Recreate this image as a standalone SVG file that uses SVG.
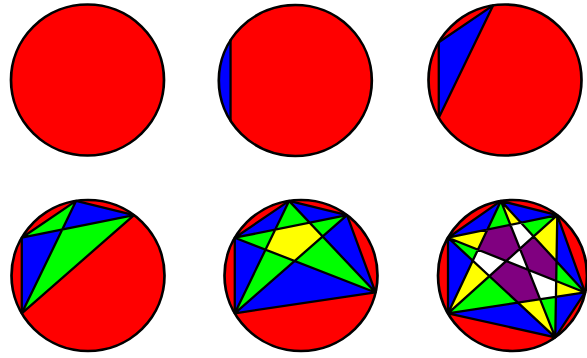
<svg xmlns="http://www.w3.org/2000/svg" width="587" height="358" viewBox="0 0 587 358">
<style>
.disk{fill:#ff0000}
.rim{fill:none;stroke:#000;stroke-width:2.7;vector-effect:non-scaling-stroke}
.ch{fill:none;stroke:#000;stroke-width:2.3;stroke-linecap:round;stroke-linejoin:round;vector-effect:non-scaling-stroke}
.b{fill:#0000ff}.g{fill:#00ff00}.y{fill:#ffff00}.p{fill:#800080}.w{fill:#ffffff}
</style>
<rect width="587" height="358" fill="#fff"/>
<g id="circle1" transform="translate(87.5,80) scale(0.987,0.974)">
<circle class="disk" r="77.5"/>
<circle class="rim" r="77.5"/>
</g>
<g id="circle2" transform="translate(295.3,80.5) scale(0.987,0.974)">
<circle class="disk" r="77.5"/>
<path class="b" d="M-65.6,-41.3 A77.5,77.5 0 0 0 -65.6,41.3 Z"/>
<path class="ch" d="M-65.6,41.3 L-65.6,-41.3"/>
<circle class="rim" r="77.5"/>
</g>
<g id="circle3" transform="translate(505,80) scale(0.987,0.974)">
<circle class="disk" r="77.5"/>
<polygon class="b" points="-67.1,38.8 -67.1,-38.8 -12.1,-76.6"/>
<path class="ch" d="M-67.1,38.8 L-67.1,-38.8 M-67.1,38.8 L-12.1,-76.6 M-67.1,-38.8 L-12.1,-76.6"/>
<circle class="rim" r="77.5"/>
</g>
<g id="circle4" transform="translate(88,275.5) scale(0.987,0.974)">
<circle class="disk" r="77.5"/>
<polygon class="b" points="-67.1,38.8 -67.1,-38.8 -26.2,-47.1"/>
<polygon class="g" points="-67.1,-38.8 -12.1,-76.6 -26.2,-47.1"/>
<polygon class="b" points="-12.1,-76.6 46.6,-61.9 -26.2,-47.1"/>
<polygon class="g" points="46.6,-61.9 -67.1,38.8 -26.2,-47.1"/>
<path class="ch" d="M-67.1,38.8 L-67.1,-38.8 M-67.1,38.8 L-12.1,-76.6 M-67.1,38.8 L46.6,-61.9 M-67.1,-38.8 L-12.1,-76.6 M-67.1,-38.8 L46.6,-61.9 M-12.1,-76.6 L46.6,-61.9"/>
<circle class="rim" r="77.5"/>
</g>
<g id="circle5" transform="translate(301,275.5) scale(0.987,0.974)">
<circle class="disk" r="77.5"/>
<polygon class="y" points="-26.2,-47.1 8.7,-54.2 21.9,-40.0 -6.5,-14.9 -36.0,-26.5"/>
<polygon class="g" points="-12.1,-76.6 -26.2,-47.1 8.7,-54.2"/>
<polygon class="g" points="46.6,-61.9 8.7,-54.2 21.9,-40.0"/>
<polygon class="g" points="75.5,17.4 21.9,-40.0 -6.5,-14.9"/>
<polygon class="g" points="-67.1,38.8 -6.5,-14.9 -36.0,-26.5"/>
<polygon class="g" points="-67.1,-38.8 -36.0,-26.5 -26.2,-47.1"/>
<polygon class="b" points="-67.1,38.8 -67.1,-38.8 -36.0,-26.5"/>
<polygon class="b" points="-67.1,-38.8 -12.1,-76.6 -26.2,-47.1"/>
<polygon class="b" points="-12.1,-76.6 46.6,-61.9 8.7,-54.2"/>
<polygon class="b" points="46.6,-61.9 75.5,17.4 21.9,-40.0"/>
<polygon class="b" points="75.5,17.4 -67.1,38.8 -6.5,-14.9"/>
<path class="ch" d="M-67.1,38.8 L-67.1,-38.8 M-67.1,38.8 L-12.1,-76.6 M-67.1,38.8 L46.6,-61.9 M-67.1,38.8 L75.5,17.4 M-67.1,-38.8 L-12.1,-76.6 M-67.1,-38.8 L46.6,-61.9 M-67.1,-38.8 L75.5,17.4 M-12.1,-76.6 L46.6,-61.9 M-12.1,-76.6 L75.5,17.4 M46.6,-61.9 L75.5,17.4"/>
<circle class="rim" r="77.5"/>
</g>
<g id="circle6" transform="translate(512.5,275.5) scale(0.961,0.974)">
<circle class="disk" r="77.5"/>
<polygon class="b" points="-67.1,38.8 -67.1,-38.8 -41.4,-15.2"/>
<polygon class="y" points="-67.1,38.8 -41.4,-15.2 -24.1,0.7"/>
<polygon class="g" points="-67.1,38.8 -24.1,0.7 5.6,27.9"/>
<polygon class="b" points="-67.1,38.8 5.6,27.9 44.5,63.5"/>
<polygon class="b" points="-67.1,-38.8 -26.2,-47.1 -12.1,-76.6"/>
<polygon class="y" points="-67.1,-38.8 -26.2,-47.1 -36.0,-26.5"/>
<polygon class="g" points="-67.1,-38.8 -36.0,-26.5 -41.4,-15.2"/>
<polygon class="b" points="-12.1,-76.6 46.6,-61.9 8.7,-54.2"/>
<polygon class="y" points="-12.1,-76.6 8.7,-54.2 -2.2,-52.0"/>
<polygon class="g" points="-12.1,-76.6 -2.2,-52.0 -26.2,-47.1"/>
<polygon class="b" points="46.6,-61.9 75.5,17.4 45.8,-14.4"/>
<polygon class="y" points="46.6,-61.9 45.8,-14.4 21.9,-40.0"/>
<polygon class="g" points="46.6,-61.9 21.9,-40.0 8.7,-54.2"/>
<polygon class="b" points="75.5,17.4 44.5,63.5 45.2,22.0"/>
<polygon class="y" points="75.5,17.4 45.2,22.0 45.5,5.6"/>
<polygon class="g" points="75.5,17.4 45.5,5.6 45.8,-14.4"/>
<polygon class="y" points="44.5,63.5 5.6,27.9 28.7,24.4"/>
<polygon class="g" points="44.5,63.5 28.7,24.4 45.2,22.0"/>
<polygon class="w" points="-41.4,-15.2 -36.0,-26.5 -6.5,-14.9 -24.1,0.7"/>
<polygon class="p" points="-36.0,-26.5 -26.2,-47.1 -2.2,-52.0 7.7,-27.5 -6.5,-14.9"/>
<polygon class="w" points="-2.2,-52.0 8.7,-54.2 21.9,-40.0 7.7,-27.5"/>
<polygon class="p" points="21.9,-40.0 45.8,-14.4 45.5,5.6 16.4,-5.8 7.7,-27.5"/>
<polygon class="w" points="45.5,5.6 45.2,22.0 28.7,24.4 16.4,-5.8"/>
<polygon class="p" points="5.6,27.9 28.7,24.4 16.4,-5.8 -6.5,-14.9 -24.1,0.7"/>
<polygon class="w" points="-6.5,-14.9 7.7,-27.5 16.4,-5.8"/>
<path class="ch" d="M-67.1,38.8 L-67.1,-38.8 M-67.1,38.8 L-12.1,-76.6 M-67.1,38.8 L46.6,-61.9 M-67.1,38.8 L75.5,17.4 M-67.1,38.8 L44.5,63.5 M-67.1,-38.8 L-12.1,-76.6 M-67.1,-38.8 L46.6,-61.9 M-67.1,-38.8 L75.5,17.4 M-67.1,-38.8 L44.5,63.5 M-12.1,-76.6 L46.6,-61.9 M-12.1,-76.6 L75.5,17.4 M-12.1,-76.6 L44.5,63.5 M46.6,-61.9 L75.5,17.4 M46.6,-61.9 L44.5,63.5 M75.5,17.4 L44.5,63.5"/>
<circle class="rim" r="77.5"/>
</g>
</svg>
